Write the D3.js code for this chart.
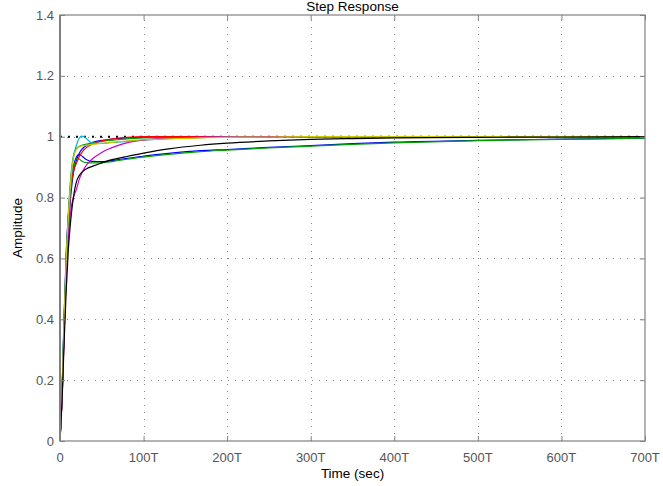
<!DOCTYPE html>
<html lang="en">
<head>
  <meta charset="UTF-8" />
  <title>Step Response</title>
  <style>
    body { margin: 0; background: #fff; }
    svg { display: block; font-family: "Liberation Sans", Arial, sans-serif; }
  </style>
</head>
<body>
  <svg id="chart" width="663" height="486"></svg>

  <script src="https://d3js.org/d3.v7.min.js"></script>
  <script>
    // sample times (in units of T) shared by every response
    const times = [0, 3, 5, 7.5, 10, 13, 16, 20, 23, 26, 29, 32, 36, 40, 48, 56, 68, 80, 100, 130, 168, 200, 250, 300, 350, 400, 500, 600, 700];

    // step responses
    const blue1   = [0, .22, .42, .62, .74, .84, .90, .935, .942, .937, .930, .924, .920, .919, .918, .919, .924, .929, .936, .945, .954, .958, .965, .971, .977, .982, .988, .992, .995];
    const green1  = [0, .20, .40, .60, .73, .83, .89, .929, .927, .920, .916, .915, .914, .914, .914, .916, .921, .926, .933, .942, .951, .956, .963, .969, .975, .980, .987, .991, .995];
    const red     = [0, .18, .36, .55, .68, .84, .885, .915, .935, .948, .958, .965, .972, .977, .985, .990, .995, .998, 1, 1, 1, 1, 1, 1, 1, 1, 1, 1, 1];
    const cyan    = [0, .20, .38, .58, .72, .85, .93, .975, .995, 1.002, 1.0, .993, .983, .979, .978, .979, .982, .985, .989, .994, .997, .999, 1, 1, 1, 1, 1, 1, 1];
    const magenta = [0, .18, .36, .55, .67, .76, .80, .83, .86, .88, .895, .908, .920, .930, .945, .957, .970, .980, .989, .995, .998, .999, 1, 1, 1, 1, 1, 1, 1];
    const yellow  = [0, .21, .40, .60, .74, .86, .93, .960, .967, .970, .971, .972, .974, .975, .978, .980, .983, .986, .990, .993, .996, .998, .999, 1, 1, 1, 1, 1, 1];
    const black   = [0, .17, .33, .50, .63, .73, .80, .855, .872, .883, .890, .895, .900, .904, .912, .920, .928, .935, .946, .960, .972, .979, .986, .991, .994, .996, .998, .999, 1];
    const blue2   = [0, .19, .38, .57, .70, .81, .88, .925, .945, .958, .966, .972, .978, .982, .987, .990, .994, .996, .998, .999, 1, 1, 1, 1, 1, 1, 1, 1, 1];
    const green2  = [0, .21, .41, .61, .75, .87, .935, .962, .968, .972, .974, .976, .978, .980, .984, .987, .990, .993, .996, .998, .999, 1, 1, 1, 1, 1, 1, 1, 1];

    // the two fast blue/green responses sit underneath the others
    const series = [
      { name: "b2", values: blue2, color: "#0000ff" },
      { name: "g2", values: green2, color: "#00a000" },
      { name: "b", values: blue1, color: "#0000ff" },
      { name: "g", values: green1, color: "#00a000" },
      { name: "r", values: red, color: "#ff0000" },
      { name: "c", values: cyan, color: "#00b0d8" },
      { name: "m", values: magenta, color: "#cc00cc" },
      { name: "y", values: yellow, color: "#c8c800" },
      { name: "k", values: black, color: "#000000" }
    ];

    const xTicks = [0, 100, 200, 300, 400, 500, 600, 700];
    const xTickLabels = ["0", "100T", "200T", "300T", "400T", "500T", "600T", "700T"];
    const yTicks = [0, 0.2, 0.4, 0.6, 0.8, 1, 1.2, 1.4];

    const margin = { left: 60, right: 18, top: 15, bottom: 45 };
    const width = 663, height = 486;
    const svg = d3.select("#chart");

    const x = d3.scaleLinear().domain([0, 700]).range([margin.left, width - margin.right]);
    const y = d3.scaleLinear().domain([0, 1.4]).range([height - margin.bottom, margin.top]);

    const axisColor = "#808080";
    const textColor = "#555";

    // dotted grid
    const grid = svg.append("g")
      .attr("stroke", "#888")
      .attr("stroke-width", 1)
      .attr("stroke-dasharray", "1,6");
    grid.selectAll("line.v").data(xTicks.slice(1, -1)).join("line")
      .attr("class", "v")
      .attr("x1", d => Math.round(x(d)) + 0.5).attr("x2", d => Math.round(x(d)) + 0.5)
      .attr("y1", y(0)).attr("y2", y(1.4));
    grid.selectAll("line.h").data(yTicks.slice(1, -1)).join("line")
      .attr("class", "h")
      .attr("y1", d => Math.round(y(d)) + 0.5).attr("y2", d => Math.round(y(d)) + 0.5)
      .attr("x1", x(0)).attr("x2", x(700));

    // steady state line
    svg.append("line")
      .attr("x1", x(0)).attr("x2", x(700))
      .attr("y1", y(1)).attr("y2", y(1))
      .attr("stroke", "#000").attr("stroke-width", 2)
      .attr("stroke-dasharray", "2,6");

    const line = d3.line()
      .x((d, i) => x(times[i]))
      .y(d => y(d))
      .curve(d3.curveMonotoneX);

    svg.append("g").selectAll("path").data(series).join("path")
      .attr("fill", "none")
      .attr("stroke", d => d.color)
      .attr("stroke-width", 1.2)
      .attr("d", d => line(d.values));

    // axes box with inward ticks on all sides
    const axes = svg.append("g");
    axes.append("g").attr("transform", `translate(0,${y(0)})`)
      .call(d3.axisTop(x).tickValues(xTicks).tickSize(5).tickFormat(""));
    axes.append("g").attr("transform", `translate(0,${y(1.4)})`)
      .call(d3.axisBottom(x).tickValues(xTicks).tickSize(5).tickFormat(""));
    axes.append("g").attr("transform", `translate(${x(0)},0)`)
      .call(d3.axisRight(y).tickValues(yTicks).tickSize(5).tickFormat(""));
    axes.append("g").attr("transform", `translate(${x(700)},0)`)
      .call(d3.axisLeft(y).tickValues(yTicks).tickSize(5).tickFormat(""));
    axes.selectAll("path.domain").remove();
    axes.selectAll(".tick line").attr("stroke", axisColor);
    axes.append("rect")
      .attr("x", x(0)).attr("y", y(1.4))
      .attr("width", x(700) - x(0)).attr("height", y(0) - y(1.4))
      .attr("fill", "none").attr("stroke", axisColor).attr("stroke-width", 1.2);
    axes.append("line")
      .attr("x1", x(0)).attr("x2", x(0)).attr("y1", y(0)).attr("y2", y(1.4))
      .attr("stroke", axisColor).attr("stroke-width", 2);

    // tick labels
    svg.append("g").selectAll("text").data(xTicks).join("text")
      .attr("x", d => x(d)).attr("y", y(0) + 21)
      .attr("text-anchor", "middle")
      .attr("font-size", 13).attr("fill", textColor)
      .text((d, i) => xTickLabels[i]);
    svg.append("g").selectAll("text").data(yTicks).join("text")
      .attr("x", x(0) - 6).attr("y", d => y(d) + 4.5)
      .attr("text-anchor", "end")
      .attr("font-size", 13).attr("fill", textColor)
      .text(d => +d.toFixed(1));

    // title and labels
    const midX = (x(0) + x(700)) / 2;
    svg.append("text").attr("x", midX).attr("y", 11)
      .attr("text-anchor", "middle").attr("font-size", 13.5).attr("fill", "#000")
      .text("Step Response");
    svg.append("text").attr("x", midX).attr("y", 478)
      .attr("text-anchor", "middle").attr("font-size", 13.5).attr("fill", "#000")
      .text("Time (sec)");
    svg.append("text")
      .attr("transform", `translate(22,${(y(0) + y(1.4)) / 2}) rotate(-90)`)
      .attr("text-anchor", "middle").attr("font-size", 13.5).attr("fill", "#000")
      .text("Amplitude");
  </script>
</body>
</html>
